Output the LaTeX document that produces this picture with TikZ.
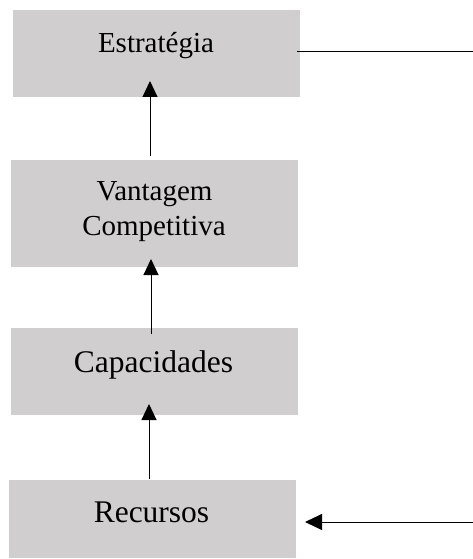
\documentclass[tikz,border=0pt]{standalone}
\usepackage{fontspec}
\setmainfont{Liberation Serif}
\usetikzlibrary{arrows.meta}
\definecolor{boxgray}{RGB}{208,206,206}
\begin{document}
\begin{tikzpicture}[x=1pt,y=1pt,
  box/.style={fill=boxgray,draw=none,minimum width=287pt,inner sep=0pt,outer sep=0pt},
  lblA/.style={inner sep=0pt,anchor=base,font=\fontsize{29}{35}\selectfont},
  lblB/.style={inner sep=0pt,anchor=base,font=\fontsize{31.5}{38}\selectfont},
  conn/.style={line width=1pt,black},
  arr/.style={conn,-{Triangle[width=15pt,length=16pt]}}]
\useasboundingbox (0,0) rectangle (473,-559);
\node[box,minimum height=87pt]  (s) at (156.5,-53.5) {};
\node[box,minimum height=107pt] (v) at (154.5,-213.5) {};
\node[box,minimum height=87pt]  (c) at (154.5,-371.5) {};
\node[box,minimum height=78pt]  (r) at (152.5,-519) {};
\node[lblA] (st) at (156,-53) {Estratégia};
\node[lblA] (vt1) at (154.5,-200) {Vantagem};
\node[lblA] (vt2) at (154,-235) {Competitiva};
\node[lblB] (ct) at (153.5,-372) {Capacidades};
\node[lblB] (rt) at (151.5,-522) {Recursos};
% vertical arrows
\coordinate (a1s) at (150,-156); \coordinate (a1e) at (150,-81);
\coordinate (a2s) at (151,-334); \coordinate (a2e) at (151,-259);
\coordinate (a3s) at (149,-479); \coordinate (a3e) at (149,-404);
\draw[arr] (a1s) -- (a1e);
\draw[arr] (a2s) -- (a2e);
\draw[arr] (a3s) -- (a3e);
% right connectors
\coordinate (t1) at (297,-52); \coordinate (t2) at (473,-52);
\draw[conn] (t1) -- (t2);
\coordinate (b1) at (473,-522); \coordinate (b2) at (305,-522);
\draw[conn,-{Triangle[width=16pt,length=17pt]}] (b1) -- (b2);
\end{tikzpicture}
\end{document}
